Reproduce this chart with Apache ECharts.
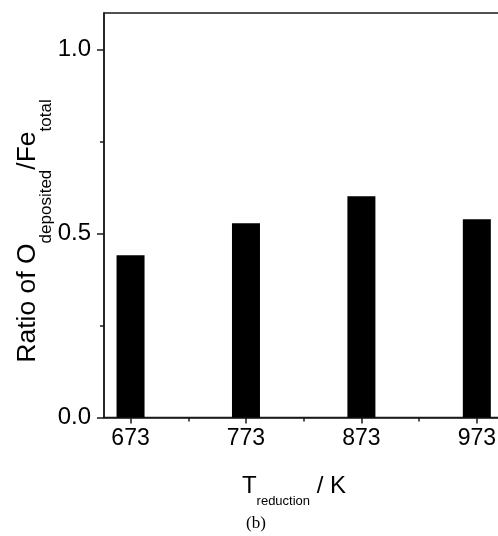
<!DOCTYPE html>
<html>
<head>
<meta charset="utf-8">
<script src="https://cdn.jsdelivr.net/npm/echarts@6/dist/echarts.min.js"></script>
<style>
  html, body { margin: 0; padding: 0; background: #fff; }
  #chart { width: 498px; height: 536px; }
</style>
</head>
<body>
<div id="chart"></div>
<script>
// Reduction temperatures (K) and the O_deposited / Fe_total ratio at each
const temperatures = [673, 773, 873, 973];
const ratios = [0.441, 0.528, 0.602, 0.539];

// Tick positions
const xMajorTicks = [673, 773, 873, 973];
const xMinorTicks = [723, 823, 923];
const yMajorTicks = [0, 0.5, 1.0];
const yMinorTicks = [0.25, 0.75];

const FONT = 'Liberation Sans, Arial, sans-serif';
const INK = '#1a1a1a';

const chart = echarts.init(document.getElementById('chart'), null, { renderer: 'canvas' });

// The plot frame runs past the right edge of the canvas
const gridBox = { left: 104, top: 13, width: 404, height: 404.5 };

chart.setOption({
  animation: false,
  backgroundColor: '#fff',
  grid: Object.assign({
    show: true, borderColor: INK, borderWidth: 1.5, backgroundColor: 'transparent',
    containLabel: false, outerBoundsMode: 'none'
  }, gridBox),
  xAxis: [
    {
      type: 'value', min: 650, max: 1000, position: 'bottom',
      axisLine: { show: true, onZero: false, lineStyle: { color: INK, width: 1.5 } },
      axisTick: { show: true, inside: false, length: 6, customValues: xMajorTicks, lineStyle: { color: INK, width: 1.5 } },
      axisLabel: { show: true, customValues: xMajorTicks, margin: 10, fontFamily: FONT, fontSize: 23, color: '#000' },
      splitLine: { show: false }
    },
    {
      type: 'value', min: 650, max: 1000, position: 'bottom',
      axisLine: { show: false },
      axisTick: { show: true, inside: false, length: 4, customValues: xMinorTicks, lineStyle: { color: INK, width: 1.5 } },
      axisLabel: { show: false },
      splitLine: { show: false }
    }
  ],
  yAxis: [
    {
      type: 'value', min: 0, max: 1.1, position: 'left',
      axisLine: { show: true, onZero: false, lineStyle: { color: INK, width: 1.5 } },
      axisTick: { show: true, inside: false, length: 7, customValues: yMajorTicks, lineStyle: { color: INK, width: 1.5 } },
      axisLabel: { show: true, customValues: yMajorTicks, margin: 13, fontFamily: FONT, fontSize: 24, color: '#000',
        formatter: v => v.toFixed(1) },
      splitLine: { show: false }
    },
    {
      type: 'value', min: 0, max: 1.1, position: 'left',
      axisLine: { show: false },
      axisTick: { show: true, inside: false, length: 4, customValues: yMinorTicks, lineStyle: { color: INK, width: 1.5 } },
      axisLabel: { show: false },
      splitLine: { show: false }
    }
  ],
  series: [{
    type: 'bar',
    xAxisIndex: 0, yAxisIndex: 0,
    barWidth: 28,
    itemStyle: { color: '#000' },
    data: temperatures.map((t, i) => [t, ratios[i]])
  }],
  graphic: [
    {
      type: 'text',
      x: 41.5, y: 231,
      rotation: Math.PI / 2,
      style: {
        text: '{a|Ratio of O}{s|deposited}{a|/Fe}{s|total}',
        align: 'center', verticalAlign: 'middle',
        rich: {
          a: { fontFamily: FONT, fontSize: 26.5, color: '#000', lineHeight: 26, padding: [0, 0, 13, 0], verticalAlign: 'bottom' },
          s: { fontFamily: FONT, fontSize: 17, color: '#000', lineHeight: 16, verticalAlign: 'bottom' }
        }
      }
    },
    {
      type: 'text',
      x: 294, y: 496,
      style: {
        text: '{a|T}{s|reduction}{a| / K}',
        align: 'center', verticalAlign: 'middle',
        rich: {
          a: { fontFamily: FONT, fontSize: 24, color: '#000', lineHeight: 24, padding: [0, 0, 10, 0], verticalAlign: 'bottom' },
          s: { fontFamily: FONT, fontSize: 13, color: '#000', lineHeight: 13, verticalAlign: 'bottom' }
        }
      }
    },
    {
      type: 'text',
      x: 256, y: 523.5,
      style: {
        text: '(b)',
        align: 'center', verticalAlign: 'middle',
        fontFamily: 'Liberation Serif, Times New Roman, serif',
        fontSize: 17, fill: '#000'
      }
    }
  ]
});
</script>
</body>
</html>
